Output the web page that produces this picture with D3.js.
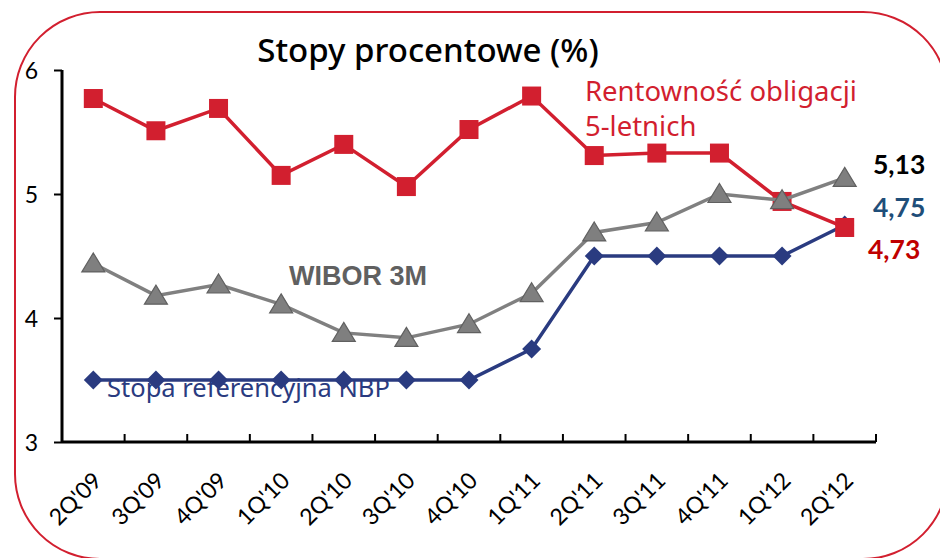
<!DOCTYPE html>
<html><head><meta charset="utf-8">
<script src="https://cdn.jsdelivr.net/npm/d3@7"></script>
<style>body{margin:0;background:#fff}svg{display:block}</style>
</head><body>
<svg id="c" width="940" height="558"></svg>
<script>
const categories = ["2Q'09","3Q'09","4Q'09","1Q'10","2Q'10","3Q'10","4Q'10","1Q'11","2Q'11","3Q'11","4Q'11","1Q'12","2Q'12"];
const bondYield = [5.77,5.51,5.69,5.15,5.40,5.06,5.52,5.79,5.31,5.33,5.33,4.94,4.73];
const wibor3m   = [4.44,4.18,4.27,4.11,3.88,3.84,3.95,4.20,4.69,4.77,5.00,4.95,5.13];
const nbpRate   = [3.5,3.5,3.5,3.5,3.5,3.5,3.5,3.75,4.5,4.5,4.5,4.5,4.75];
const yTicks = [3,4,5,6];
const endLabels = ["5,13","4,75","4,73"];

const svg = d3.select("#c");
const RED = "#D21F2F", GRAY = "#808080", BLUE = "#2A3B80";

// frame
svg.append("rect").attr("x",15).attr("y",12).attr("width",933).attr("height",547)
  .attr("rx",85).attr("ry",85).attr("fill","none").attr("stroke",RED).attr("stroke-width",2);

const x = d3.scaleBand().domain(categories).range([62,876]).padding(0);
const y = d3.scaleLinear().domain([3,6]).range([442,70]);
const cx = d => x(d) + x.bandwidth()/2;

// axes
const yAxis = svg.append("g").attr("transform","translate(62,0)")
  .call(d3.axisLeft(y).tickValues(yTicks).tickSize(8).tickPadding(16).tickFormat(d3.format("d")));
yAxis.select(".domain").attr("stroke","#000").attr("stroke-width",3).attr("d","M0,70V442");
yAxis.selectAll(".tick line").attr("stroke","#000").attr("stroke-width",2);
yAxis.selectAll("text").attr("font-family","Lato, 'Open Sans', sans-serif").attr("font-size",23).attr("fill","#000").attr("dy","0.35em");

const xAxis = svg.append("g").attr("transform","translate(0,442)");
xAxis.append("line").attr("x1",62).attr("x2",876).attr("y1",0).attr("y2",0).attr("stroke","#000").attr("stroke-width",3);
const bounds = categories.map(c => x(c)).concat([x(categories[categories.length-1]) + x.bandwidth()]);
xAxis.selectAll("line.tk").data(bounds.slice(1)).join("line").attr("class","tk")
  .attr("x1",d=>d).attr("x2",d=>d).attr("y1",0).attr("y2",-8).attr("stroke","#000").attr("stroke-width",2);
xAxis.selectAll("text").data(categories).join("text")
  .attr("transform", d => `translate(${cx(d)+10},${40}) rotate(-45)`)
  .attr("text-anchor","end").attr("font-family","Lato, 'Open Sans', sans-serif").attr("font-size",23).attr("fill","#000")
  .text(d => d);

const line = d3.line().x((d,i)=>cx(categories[i])).y(d=>y(d));

// blue NBP
svg.append("path").datum(nbpRate).attr("d",line).attr("fill","none").attr("stroke",BLUE).attr("stroke-width",3.5);
svg.selectAll("path.dia").data(nbpRate).join("path").attr("class","dia")
  .attr("d","M0,-9.5L9.5,0L0,9.5L-9.5,0Z")
  .attr("transform",(d,i)=>`translate(${cx(categories[i])},${y(d)})`)
  .attr("fill",BLUE);

// red bond
svg.append("path").datum(bondYield).attr("d",line).attr("fill","none").attr("stroke",RED).attr("stroke-width",3.5);
svg.selectAll("rect.sq").data(bondYield).join("rect").attr("class","sq")
  .attr("x",(d,i)=>cx(categories[i])-9.5).attr("y",d=>y(d)-9.5).attr("width",19).attr("height",19).attr("fill",RED);

// gray wibor
svg.append("path").datum(wibor3m).attr("d",line).attr("fill","none").attr("stroke",GRAY).attr("stroke-width",3.5);
svg.selectAll("path.tri").data(wibor3m).join("path").attr("class","tri")
  .attr("d","M0,-10.5L11.5,8.5L-11.5,8.5Z")
  .attr("transform",(d,i)=>`translate(${cx(categories[i])},${y(d)})`)
  .attr("fill","#7F7F7F").attr("stroke","#606060").attr("stroke-width",1.2);

// title
svg.append("text").attr("x",428).attr("y",62).attr("text-anchor","middle")
  .attr("font-family","'Noto Sans', sans-serif").attr("font-size",33).attr("font-weight",500).attr("fill","#000")
  .text("Stopy procentowe (%)");

// series labels
const lr = svg.append("text").attr("font-family","'Noto Sans', sans-serif").attr("font-size",27.5).attr("fill",RED);
lr.append("tspan").attr("x",585).attr("y",101).text("Rentowność obligacji");
lr.append("tspan").attr("x",585).attr("y",136).text("5-letnich");

svg.append("text").attr("x",289).attr("y",285).attr("font-family","'Liberation Sans', Arial, sans-serif")
  .attr("font-weight","bold").attr("font-size",27).attr("fill","#606060").text("WIBOR 3M");

svg.append("text").attr("x",107).attr("y",397).attr("font-family","'Noto Sans', sans-serif")
  .attr("font-size",25.5).attr("fill",BLUE).text("Stopa referencyjna NBP");

const endColors = ["#000","#1F4E79","#C00000"];
const endY = [174,217,259];
const endX = [873,873,868];
svg.selectAll("text.end").data(endLabels).join("text").attr("class","end")
  .attr("x",(d,i)=>endX[i]).attr("y",(d,i)=>endY[i])
  .attr("font-family","Lato, 'Open Sans', sans-serif").attr("font-weight","bold").attr("font-size",26.5)
  .attr("fill",(d,i)=>endColors[i]).text(d=>d);
</script>
</body></html>
